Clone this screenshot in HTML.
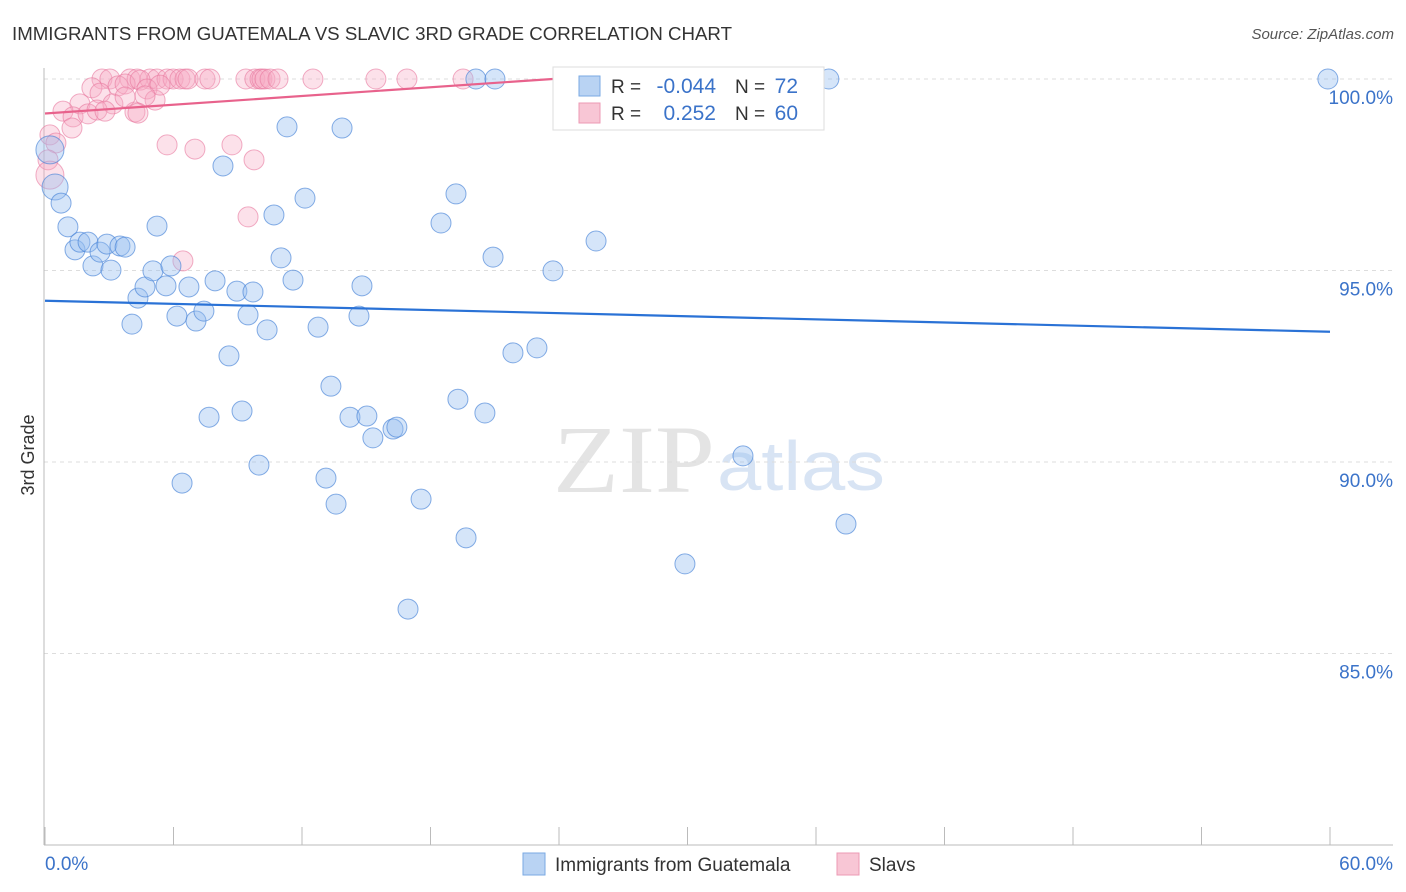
<!DOCTYPE html>
<html><head><meta charset="utf-8"><style>
html,body{margin:0;padding:0;background:#fff;}
svg{display:block;font-family:"Liberation Sans",sans-serif;}
</style></head><body>
<svg id="chart" width="1406" height="892" viewBox="0 0 1406 892">
<text x="12" y="40" font-size="18" fill="#333" textLength="720" lengthAdjust="spacingAndGlyphs">IMMIGRANTS FROM GUATEMALA VS SLAVIC 3RD GRADE CORRELATION CHART</text>
<text x="1394" y="39" font-size="15" fill="#555" font-style="italic" text-anchor="end">Source: ZipAtlas.com</text>
<g>
<text x="553" y="492" font-family="Liberation Serif,serif" font-size="96" fill="#e4e4e4" textLength="162" lengthAdjust="spacingAndGlyphs">ZIP</text>
<text x="717" y="490" font-size="70" fill="#d8e4f4" textLength="168" lengthAdjust="spacingAndGlyphs">atlas</text>
</g>
<g id="grid"></g>
<g id="axes"></g>
<g id="marks"></g>
<text transform="translate(34,455) rotate(-90)" font-size="18" fill="#333" text-anchor="middle">3rd Grade</text>
<g>
<rect x="553" y="67" width="271" height="63" fill="#fff" stroke="#ddd"/>
<rect x="579" y="76" width="21" height="20" fill="#b9d3f3" stroke="#7aaae3"/>
<rect x="579" y="103" width="21" height="20" fill="#f8c6d5" stroke="#ec9ab4"/>
<text x="611" y="93" font-size="19" fill="#333">R =</text>
<text x="716" y="93" font-size="21" fill="#3b73c9" text-anchor="end">-0.044</text>
<text x="735" y="93" font-size="19" fill="#333">N =</text>
<text x="798" y="93" font-size="21" fill="#3b73c9" text-anchor="end">72</text>
<text x="611" y="120" font-size="19" fill="#333">R =</text>
<text x="716" y="120" font-size="21" fill="#3b73c9" text-anchor="end">0.252</text>
<text x="735" y="120" font-size="19" fill="#333">N =</text>
<text x="798" y="120" font-size="21" fill="#3b73c9" text-anchor="end">60</text>
</g>
<g>
<rect x="523" y="853" width="22" height="22" fill="#b9d3f3" stroke="#7aaae3"/>
<text x="555" y="871" font-size="19" fill="#333">Immigrants from Guatemala</text>
<rect x="837" y="853" width="22" height="22" fill="#f8c6d5" stroke="#ec9ab4"/>
<text x="869" y="871" font-size="19" fill="#333">Slavs</text>
</g>
</svg>
<script>
const yTicks=[100,95,90,85];
const yTickLabels=["100.0%","95.0%","90.0%","85.0%"];
const xTicks=[0,6,12,18,24,30,36,42,48,54,60];
const blueX=[0.23,0.47,0.75,1.07,1.40,1.63,2.01,2.24,2.57,2.89,3.08,3.50,3.74,4.06,4.34,4.67,5.04,5.23,5.65,5.88,6.16,6.40,6.72,7.05,7.42,7.66,7.94,8.31,8.59,8.96,9.20,9.48,9.71,9.99,10.37,10.69,11.02,11.30,11.58,12.14,12.75,13.12,13.35,13.59,13.87,14.24,14.66,14.80,15.03,15.31,16.25,16.43,16.95,17.56,18.49,19.19,19.28,19.66,20.12,20.54,20.92,21.01,21.85,22.97,23.72,25.73,29.88,32.59,33.76,36.60,37.40,59.90];
const blueY=[98.15,97.18,96.76,96.14,95.54,95.74,95.74,95.12,95.48,95.69,95.01,95.64,95.61,93.60,94.28,94.57,94.99,96.16,94.60,95.12,93.81,89.45,94.57,93.68,93.94,91.17,94.73,97.73,92.77,94.46,91.33,93.84,94.44,89.92,93.45,96.45,95.33,98.75,94.75,96.89,93.52,89.58,91.98,88.90,98.72,91.17,93.81,94.60,91.20,90.63,90.86,90.91,86.16,89.03,96.24,97.00,91.64,88.02,100,91.28,95.35,100,92.85,92.98,94.99,95.77,87.34,90.16,100,100,88.38,100];
const blueR=[14,13,10,10,10,10,10,10,10,10,10,10,10,10,10,10,10,10,10,10,10,10,10,10,10,10,10,10,10,10,10,10,10,10,10,10,10,10,10,10,10,10,10,10,10,10,10,10,10,10,10,10,10,10,10,10,10,10,10,10,10,10,10,10,10,10,10,10,10,10,10,10];
const pinkX=[2.66,3.03,3.97,4.30,4.90,5.23,5.70,5.98,6.30,6.54,6.68,7.47,7.70,9.38,9.80,10.04,10.13,10.27,10.51,10.88,12.51,15.45,16.90,19.52,28.01,32.54,2.19,2.57,3.41,3.74,4.44,4.76,5.14,5.37,3.17,1.63,0.84,1.31,2.01,2.43,2.80,4.20,4.67,3.74,1.26,0.23,0.51,0.14,0.23,5.70,7.00,8.73,9.76,9.48,6.44,4.34];
const pinkY=[100,100,100,100,100,100,100,100,100,100,100,100,100,100,100,100,100,100,100,100,100,100,100,100,100,100,99.77,99.63,99.82,99.87,99.97,99.74,99.45,99.84,99.35,99.35,99.16,99.01,99.09,99.19,99.16,99.14,99.56,99.53,98.72,98.54,98.33,97.89,97.49,98.28,98.17,98.28,97.89,96.40,95.25,99.11];
const blueLine=[94.21,93.40];
const pinkLine=[99.10,100];
const pinkLineEndX=23.7;

const X=v=>45+v/60*1285;
const Y=v=>79+(100-v)*38.3;
const NS="http://www.w3.org/2000/svg";
function mk(tag,attrs,parent){const e=document.createElementNS(NS,tag);for(const k in attrs)e.setAttribute(k,attrs[k]);parent.appendChild(e);return e;}
const grid=document.getElementById('grid'),axes=document.getElementById('axes'),marks=document.getElementById('marks');
yTicks.forEach((t,i)=>{
  const g=mk('line',{x1:44,x2:1393,y1:Y(t),y2:Y(t),stroke:'#ddd','stroke-dasharray':'4,4'},grid);
  
  
  const l=mk('text',{x:1393,y:Y(t)+25,'font-size':19,fill:'#3b73c9','text-anchor':'end'},axes);
  l.textContent=yTickLabels[i];
  
  
});
const ax=mk('line',{x1:44,x2:44,y1:68,y2:845,stroke:'#bbb'},axes);


const bx=mk('line',{x1:44,x2:1393,y1:845,y2:845,stroke:'#bbb'},axes);


xTicks.forEach(t=>{
  const tk=mk('line',{x1:X(t),x2:X(t),y1:827,y2:845,stroke:'#bbb'},axes);
  
  
});
const xl0=mk('text',{x:45,y:870,'font-size':19,fill:'#3b73c9'},axes);xl0.textContent='0.0%';


const xl1=mk('text',{x:1393,y:870,'font-size':19,fill:'#3b73c9','text-anchor':'end'},axes);xl1.textContent='60.0%';



pinkX.forEach((x,i)=>{
  const c=mk('circle',{cx:X(x),cy:Y(pinkY[i]),r:i===48?14:10,fill:'rgba(245,170,195,0.35)',stroke:'rgba(232,120,158,0.6)','stroke-width':1},marks);
  
  
});
blueX.forEach((x,i)=>{
  const c=mk('circle',{cx:X(x),cy:Y(blueY[i]),r:blueR[i],fill:'rgba(150,190,240,0.4)',stroke:'rgba(70,130,215,0.65)','stroke-width':1},marks);
  
  
});
const bl=mk('line',{x1:X(0),y1:Y(blueLine[0]),x2:X(60),y2:Y(blueLine[1]),stroke:'#2a72d6','stroke-width':2.2},marks);


const pl=mk('line',{x1:X(0),y1:Y(pinkLine[0]),x2:X(pinkLineEndX),y2:Y(pinkLine[1]),stroke:'#e8628c','stroke-width':2.2},marks);


</script>
</body></html>
